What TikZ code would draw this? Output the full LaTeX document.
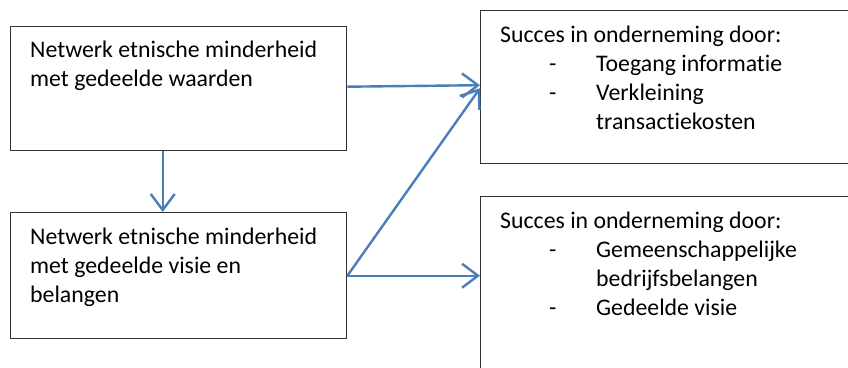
\documentclass[tikz,border=0pt]{standalone}
\usepackage{fontspec}
\setmainfont{Carlito}[Ligatures=NoCommon]
\usetikzlibrary{arrows.meta}

\tikzstyle{every node}=[font=\fontsize{23.8}{29}\selectfont, inner sep=0pt]
\tikzstyle{kader}=[draw=black!80, line width=1.4pt, rectangle, anchor=north west]
\tikzstyle{tekst}=[anchor=north west, align=left]
\tikzstyle{pijl}=[draw={rgb,255:red,74;green,126;blue,187}, line width=2.4pt,
  -{Straight Barb[length=16pt, width=24pt, line width=2.4pt]}]

\newcommand{\punt}[1]{\makebox[96pt][l]{\hspace*{49pt}-}#1}
\newcommand{\verder}[1]{\hspace*{96pt}#1}

\begin{document}
\begin{tikzpicture}[x=1pt, y=-1pt]
  \clip (0,0) rectangle (848,367);
  \fill[white] (0,0) rectangle (848,367);

  \node[kader, minimum width=336pt, minimum height=124pt] (waarden) at (10,26) {};
  \node[kader, minimum width=336pt, minimum height=126pt] (visie) at (10,212) {};
  \node[kader, minimum width=420pt, minimum height=153pt] (succes1) at (480,10) {};
  \node[kader, minimum width=420pt, minimum height=220pt] (succes2) at (480,196) {};

  \node[tekst] (twaarden) at (30,41) {Netwerk etnische minderheid\\met gedeelde waarden};
  \node[tekst] (tvisie) at (30,228) {Netwerk etnische minderheid\\met gedeelde visie en\\belangen};
  \node[tekst] (tsucces1) at (500,26) {Succes in onderneming door:\\
    \punt{Toegang informatie}\\\punt{Verkleining}\\\verder{transactiekosten}};
  \node[tekst] (tsucces2) at (500,212) {Succes in onderneming door:\\
    \punt{Gemeenschappelijke}\\\verder{bedrijfsbelangen}\\\punt{Gedeelde visie}};

  \coordinate (vanvisie) at (visie.east);
  \coordinate (naarsucces2) at (succes2.west |- vanvisie);

  \draw[pijl] ([yshift=2pt]waarden.east) -- ([yshift=2pt]succes1.west);
  \draw[pijl] ([xshift=-16pt]waarden.south) -- ([xshift=-16pt]visie.north);
  \draw[pijl] (vanvisie) -- ([yshift=-1pt]succes1.west);
  \draw[pijl] (vanvisie) -- (naarsucces2);
\end{tikzpicture}
\end{document}
